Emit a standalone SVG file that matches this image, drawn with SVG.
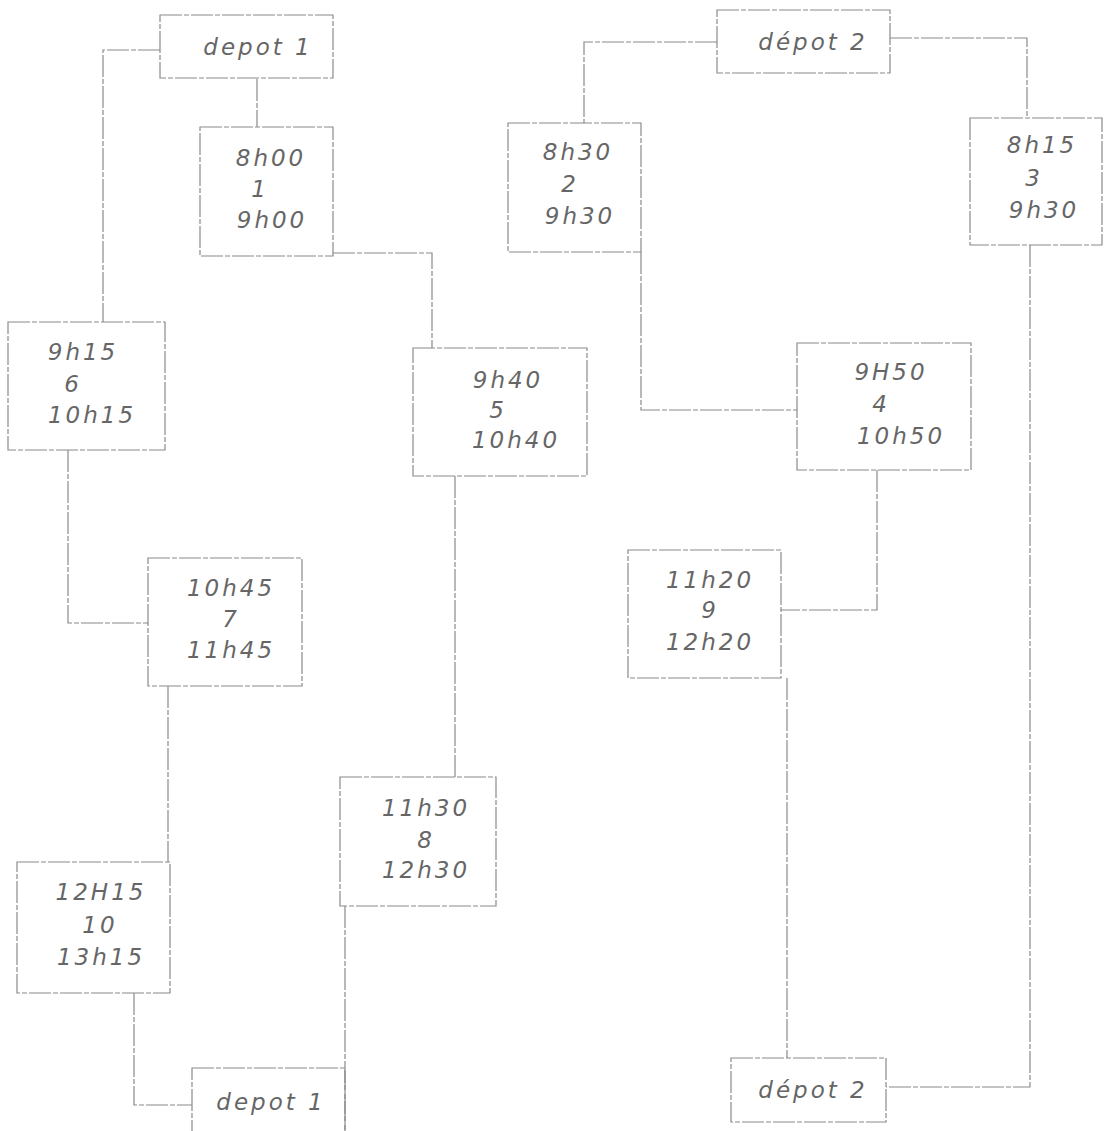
<svg xmlns="http://www.w3.org/2000/svg" width="1104" height="1131" viewBox="0 0 1104 1131">
<style>
.box{fill:none;stroke:#8a8a8a;stroke-width:1.2;stroke-dasharray:22 2 5 2}
.ln{fill:none;stroke:#8a8a8a;stroke-width:1.2;stroke-dasharray:22 2 5 2}
text{font-family:"DejaVu Sans",sans-serif;font-style:italic;font-size:23px;letter-spacing:3px;fill:#666666;text-anchor:middle}
</style>
<rect width="1104" height="1131" fill="#ffffff"/>
<g id="connectors">
<polyline class="ln" points="257,79 257,127"/>
<polyline class="ln" points="160,50 103,50 103,322"/>
<polyline class="ln" points="333,253 432,253 432,348"/>
<polyline class="ln" points="717,42 584,42 584,123"/>
<polyline class="ln" points="890,38 1027,38 1027,118"/>
<polyline class="ln" points="68,450 68,623 148,623"/>
<polyline class="ln" points="455,476 455,777"/>
<polyline class="ln" points="641,252 641,410 797,410"/>
<polyline class="ln" points="877,470 877,610 781,610"/>
<polyline class="ln" points="168,686 168,862"/>
<polyline class="ln" points="345,906 345,1131"/>
<polyline class="ln" points="134,993 134,1105 192,1105"/>
<polyline class="ln" points="787,678 787,1058"/>
<polyline class="ln" points="1030,245 1030,1087 886,1087"/>
</g>
<g id="depot1-top"><rect class="box" x="160" y="15" width="173" height="63"/><text x="258" y="55">depot 1</text></g>
<g id="depot2-top"><rect class="box" x="717" y="10" width="173" height="63"/><text x="813" y="50">dépot 2</text></g>
<g id="n1"><rect class="box" x="200" y="127" width="133" height="129"/><text x="271" y="166">8h00</text><text x="260" y="197">1</text><text x="272" y="228">9h00</text></g>
<g id="n2"><rect class="box" x="508" y="123" width="133" height="129"/><text x="578" y="160">8h30</text><text x="570" y="192">2</text><text x="580" y="224">9h30</text></g>
<g id="n3"><rect class="box" x="970" y="118" width="132" height="127"/><text x="1042" y="153">8h15</text><text x="1034" y="186">3</text><text x="1044" y="218">9h30</text></g>
<g id="n6"><rect class="box" x="8" y="322" width="157" height="128"/><text x="83" y="360">9h15</text><text x="73" y="392">6</text><text x="92" y="423">10h15</text></g>
<g id="n5"><rect class="box" x="413" y="348" width="174" height="128"/><text x="508" y="388">9h40</text><text x="498" y="418">5</text><text x="516" y="448">10h40</text></g>
<g id="n4"><rect class="box" x="797" y="343" width="174" height="127"/><text x="891" y="380">9H50</text><text x="881" y="412">4</text><text x="901" y="444">10h50</text></g>
<g id="n7"><rect class="box" x="148" y="558" width="154" height="128"/><text x="231" y="596">10h45</text><text x="231" y="627">7</text><text x="231" y="658">11h45</text></g>
<g id="n9"><rect class="box" x="628" y="550" width="153" height="128"/><text x="710" y="588">11h20</text><text x="710" y="618">9</text><text x="710" y="650">12h20</text></g>
<g id="n8"><rect class="box" x="340" y="777" width="156" height="129"/><text x="426" y="816">11h30</text><text x="426" y="848">8</text><text x="426" y="878">12h30</text></g>
<g id="n10"><rect class="box" x="17" y="862" width="153" height="131"/><text x="101" y="900">12H15</text><text x="100" y="933">10</text><text x="101" y="965">13h15</text></g>
<g id="depot1-bottom"><rect class="box" x="192" y="1068" width="153" height="70"/><text x="271" y="1110">depot 1</text></g>
<g id="depot2-bottom"><rect class="box" x="731" y="1058" width="155" height="64"/><text x="813" y="1098">dépot 2</text></g>
</svg>
